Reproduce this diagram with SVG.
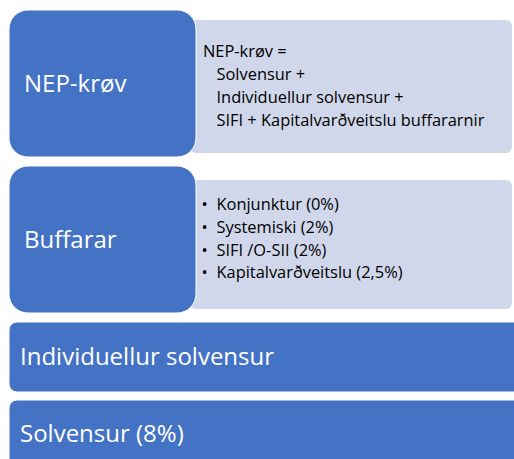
<svg xmlns="http://www.w3.org/2000/svg" width="514" height="459" viewBox="0 0 514 459">
<style>
.blue{fill:#4472C4;stroke:#FFFFFF;stroke-width:1}
.light{fill:#D0D7EA;stroke:none}
.big{font-family:"Open Sans","Noto Sans",sans-serif;font-size:24px;fill:#FFFFFF}
.small{font-family:"Open Sans","Noto Sans",sans-serif;font-size:16.4px;fill:#000000}
</style>
<rect width="514" height="459" fill="#FFFFFF"/>
<g id="nep-detail">
<rect class="light" x="190" y="20" width="322" height="133" rx="6"/>
<text class="small" x="203" y="57.3">NEP-krøv =</text>
<text class="small" x="216.5" y="80.2">Solvensur +</text>
<text class="small" x="216.5" y="103.1">Individuellur solvensur +</text>
<text class="small" x="216.5" y="126">SIFI + Kapitalvarðveitslu buffararnir</text>
</g>
<g id="nep">
<rect class="blue" x="9" y="10" width="187" height="147" rx="19"/>
<text class="big" x="24" y="92">NEP-krøv</text>
</g>
<g id="buffarar-detail">
<rect class="light" x="190" y="180" width="322" height="129" rx="6"/>
<text class="small" x="201.5" y="210">•</text><text class="small" x="216.5" y="210">Konjunktur (0%)</text>
<text class="small" x="201.5" y="232.8">•</text><text class="small" x="216.5" y="232.8">Systemiski (2%)</text>
<text class="small" x="201.5" y="255.6">•</text><text class="small" x="216.5" y="255.6">SIFI /O-SII (2%)</text>
<text class="small" x="201.5" y="278.4">•</text><text class="small" x="216.5" y="278.4">Kapitalvarðveitslu (2,5%)</text>
</g>
<g id="buffarar">
<rect class="blue" x="9" y="166" width="187" height="147" rx="19"/>
<text class="big" x="24" y="248">Buffarar</text>
</g>
<g id="individuellur">
<rect class="blue" x="9" y="322" width="530" height="70" rx="8"/>
<text class="big" x="20" y="365">Individuellur solvensur</text>
</g>
<g id="solvensur">
<rect class="blue" x="9" y="400" width="530" height="80" rx="8"/>
<text class="big" x="20" y="442">Solvensur (8%)</text>
</g>
<g id="connectors"/>
</svg>
